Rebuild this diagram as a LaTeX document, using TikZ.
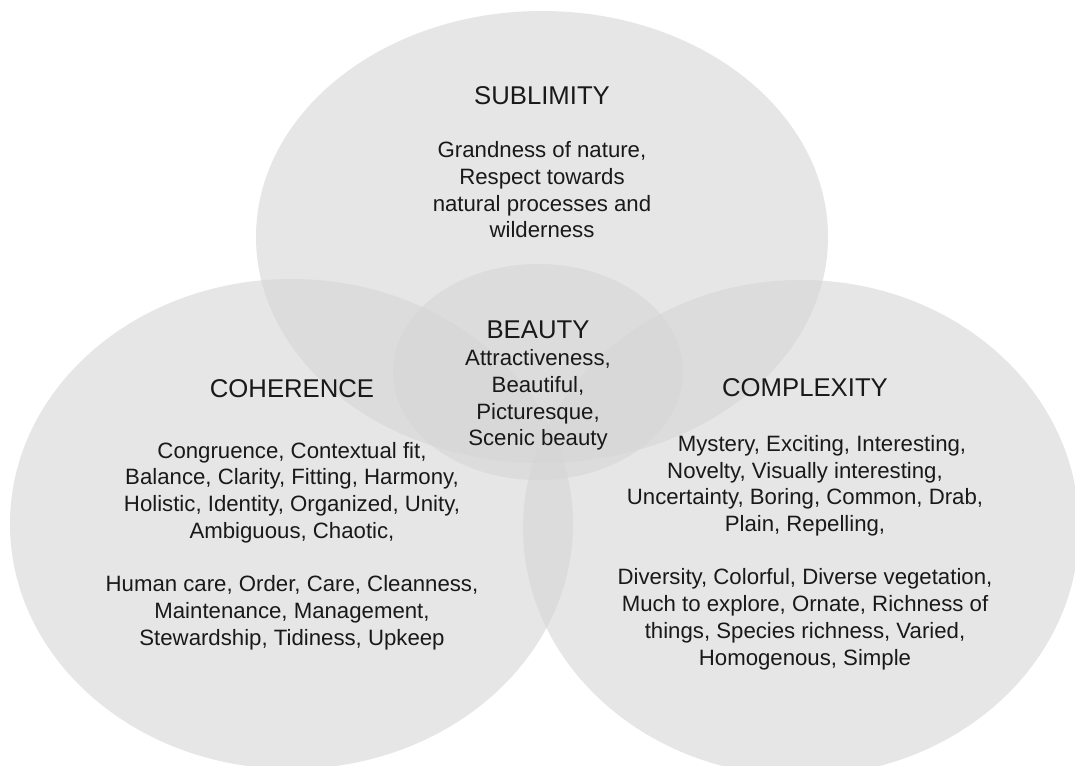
\documentclass[tikz,border=0pt]{standalone}
\usepackage{fontspec}
\setmainfont{Liberation Sans}
\begin{document}
\begin{tikzpicture}[x=1pt,y=-1pt,
  venn/.style={fill=black!16, fill opacity=0.6},
  ttl/.style={inner sep=0pt, text=black!90, font=\fontsize{25.7}{30}\selectfont},
  body/.style={inner sep=0pt, align=center, text=black!90, font=\fontsize{22.2}{26.7}\selectfont}]
\path[use as bounding box] (0,0) rectangle (1075,765);
\fill[white] (0,0) rectangle (1075,765);
\begin{scope}
\clip (0,0) rectangle (1075,765);
\fill[venn] (542,237) ellipse [x radius=286, y radius=226];
\fill[venn] (291.5,524) ellipse [x radius=281.5, y radius=245];
\fill[venn] (801,528) ellipse [x radius=278, y radius=248];
\fill[venn] (538,372) ellipse [x radius=145, y radius=108];
\end{scope}
\node[ttl] (subt) at (542,96) {SUBLIMITY};
\node[body] (subb) at (542,190) {Grandness of nature,\\Respect towards\\natural processes and\\wilderness};
\node[ttl] (beat) at (538,330) {BEAUTY};
\node[body] (beab) at (538,400) {Attractiveness,\\Beautiful,\\Picturesque,\\Scenic beauty};
\node[ttl] (coht) at (292,389) {COHERENCE};
\node[body] (cohb) at (292,546) {Congruence, Contextual fit,\\Balance, Clarity, Fitting, Harmony,\\Holistic, Identity, Organized, Unity,\\Ambiguous, Chaotic,\\[26.7pt]Human care, Order, Care, Cleanness,\\Maintenance, Management,\\Stewardship, Tidiness, Upkeep};
\node[ttl] (comt) at (805,388) {COMPLEXITY};
\node[body] (comb) at (805,552.5) {\hspace*{34pt}Mystery, Exciting, Interesting,\\Novelty, Visually interesting,\\Uncertainty, Boring, Common, Drab,\\Plain, Repelling,\\[26.7pt]Diversity, Colorful, Diverse vegetation,\\Much to explore, Ornate, Richness of\\things, Species richness, Varied,\\Homogenous, Simple};
\end{tikzpicture}
\end{document}
